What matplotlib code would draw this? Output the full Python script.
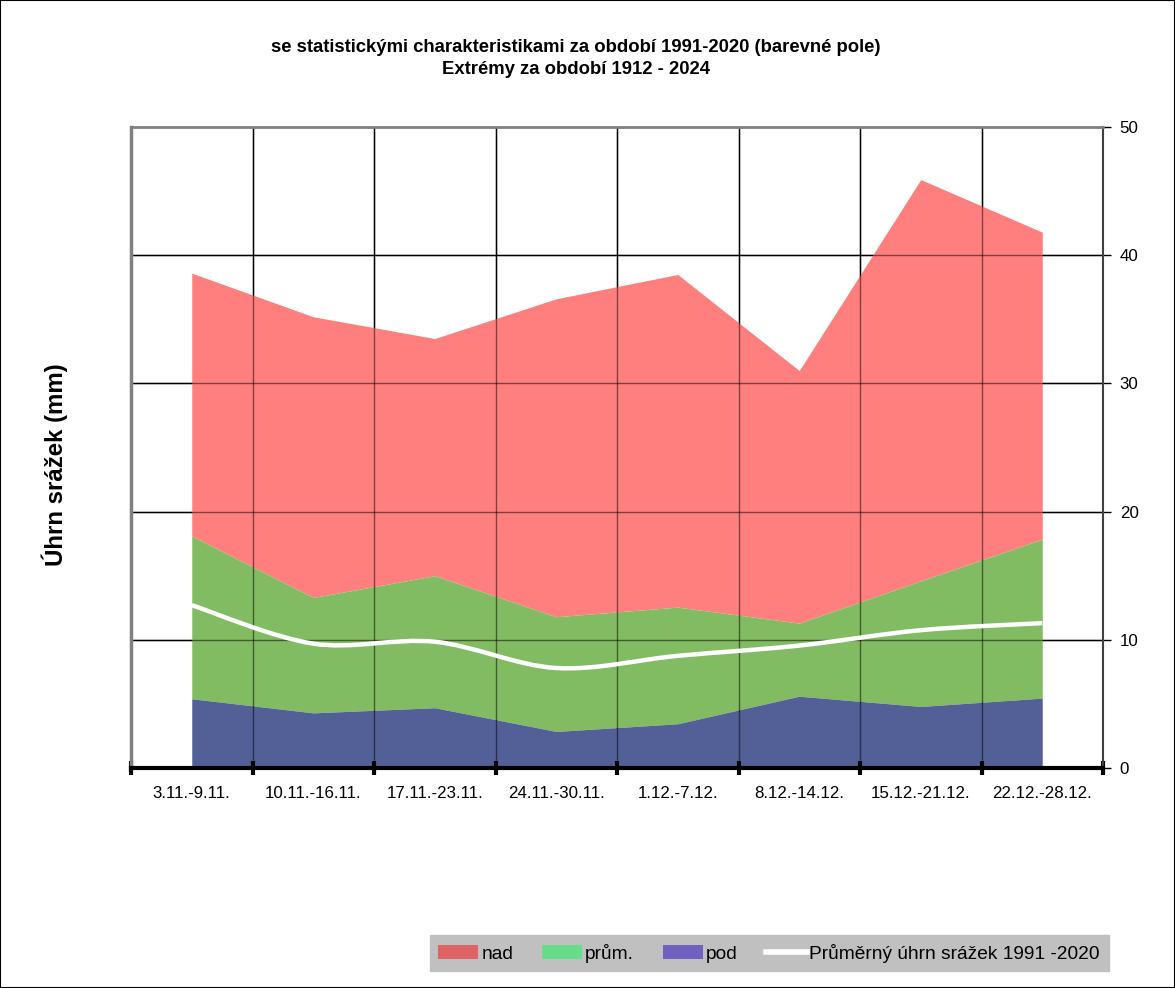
import numpy as np
import matplotlib.pyplot as plt
from matplotlib.path import Path
from matplotlib.patches import PathPatch, Patch
from matplotlib.lines import Line2D

plt.rcParams['font.family'] = ['Liberation Sans', 'DejaVu Sans']

# data (mm)
weeks = ['3.11.-9.11.', '10.11.-16.11.', '17.11.-23.11.', '24.11.-30.11.',
         '1.12.-7.12.', '8.12.-14.12.', '15.12.-21.12.', '22.12.-28.12.']
pod = [5.4, 4.3, 4.7, 2.85, 3.45, 5.6, 4.8, 5.45]        # top of blue band
prum = [18.1, 13.3, 15.0, 11.8, 12.55, 11.3, 14.6, 17.85]  # top of green band
nad = [38.6, 35.2, 33.5, 36.6, 38.5, 31.0, 45.9, 41.8]     # top of red band (max)
mean_1991_2020 = [12.7, 9.7, 9.85, 7.8, 8.75, 9.55, 10.75, 11.3]

x = np.arange(len(weeks))

fig = plt.figure(figsize=(11.75, 9.88), dpi=100)
ax = fig.add_axes([131 / 1175, 1 - 768 / 988, (1103 - 131) / 1175, (768 - 127) / 988])

ax.fill_between(x, prum, nad, color='#FF7F7F', lw=0, zorder=1)
ax.fill_between(x, pod, prum, color='#82BC62', lw=0, zorder=1)
ax.fill_between(x, 0, pod, color='#526097', lw=0, zorder=1)

# gridlines: black on white, darkened tint over the areas
for b in np.arange(0.5, len(weeks) - 0.5, 1.0):
    ax.axvline(b, color='black', lw=1, zorder=0.5)
    ax.axvline(b, color='black', lw=1, alpha=0.5, zorder=2)
for v in [10, 20, 30, 40]:
    ax.axhline(v, color='black', lw=1, zorder=0.5)
    ax.axhline(v, color='black', lw=1, alpha=0.5, zorder=2)

# smooth line (Catmull-Rom as bezier segments)
pts = np.column_stack([x, mean_1991_2020]).astype(float)
verts = [tuple(pts[0])]
codes = [Path.MOVETO]
n = len(pts)
for i in range(n - 1):
    p0 = pts[max(i - 1, 0)]
    p1 = pts[i]
    p2 = pts[i + 1]
    p3 = pts[min(i + 2, n - 1)]
    c1 = p1 + (p2 - p0) / 6
    c2 = p2 - (p3 - p1) / 6
    verts += [tuple(c1), tuple(c2), tuple(p2)]
    codes += [Path.CURVE4] * 3
ax.add_patch(PathPatch(Path(verts, codes), fill=False, edgecolor='white', lw=3.2, zorder=3,
                       capstyle='butt'))

ax.set_xlim(-0.5, len(weeks) - 0.5)
ax.set_ylim(0, 50)

ax.set_xticks(x)
ax.set_xticklabels(weeks, fontsize=12.2)
ax.set_xticks(np.arange(-0.5, len(weeks), 1.0), minor=True)
ax.tick_params(axis='x', which='major', length=0, pad=13)
ax.tick_params(axis='x', which='minor', direction='inout', length=10, width=3, color='black')

ax.yaxis.tick_right()
ax.set_yticks([0, 10, 20, 30, 40, 50])
ax.tick_params(axis='y', labelsize=12.2, length=6, width=1, color='black', pad=6)

ax.spines['bottom'].set_linewidth(3)
ax.spines['bottom'].set_color('black')
ax.spines['bottom'].set_zorder(4)
ax.spines['left'].set_color('#808080')
ax.spines['left'].set_linewidth(2.5)
ax.spines['top'].set_color('#808080')
ax.spines['top'].set_linewidth(2)
ax.spines['right'].set_color('#404040')
ax.spines['right'].set_linewidth(1.5)

fig.text(55 / 1175, 1 - 465 / 988, 'Úhrn srážek (mm)', rotation=90, fontsize=17.3,
         fontweight='bold', ha='center', va='center')

fig.text(576 / 1175, 1 - 47 / 988, 'se statistickými charakteristikami za období 1991-2020 (barevné pole)',
         fontsize=13.3, fontweight='bold', ha='center', va='center')
fig.text(576 / 1175, 1 - 70 / 988, 'Extrémy za období 1912 - 2024',
         fontsize=13.3, fontweight='bold', ha='center', va='center')

handles = [Patch(facecolor='#E06464', edgecolor='none', label='nad'),
           Patch(facecolor='#66DD88', edgecolor='none', label='prům.'),
           Patch(facecolor='#7060C0', edgecolor='none', label='pod'),
           Line2D([0], [0], color='white', lw=4, label='Průměrný úhrn srážek 1991 -2020')]
leg = fig.legend(handles=handles, loc='center', bbox_to_anchor=(769 / 1175, 1 - 953 / 988),
                 ncol=4, fontsize=13.8, frameon=True, fancybox=False, facecolor='#C0C0C0',
                 edgecolor='#C0C0C0', handlelength=2.1, handleheight=0.7, handletextpad=0.15,
                 columnspacing=1.5, borderpad=0.45, framealpha=1)

# outer border of the figure
fig.patches.append(plt.Rectangle((0, 0), 1, 1, transform=fig.transFigure, fill=False,
                                 edgecolor='black', lw=1.5))

fig.savefig('out.png', dpi=100)
